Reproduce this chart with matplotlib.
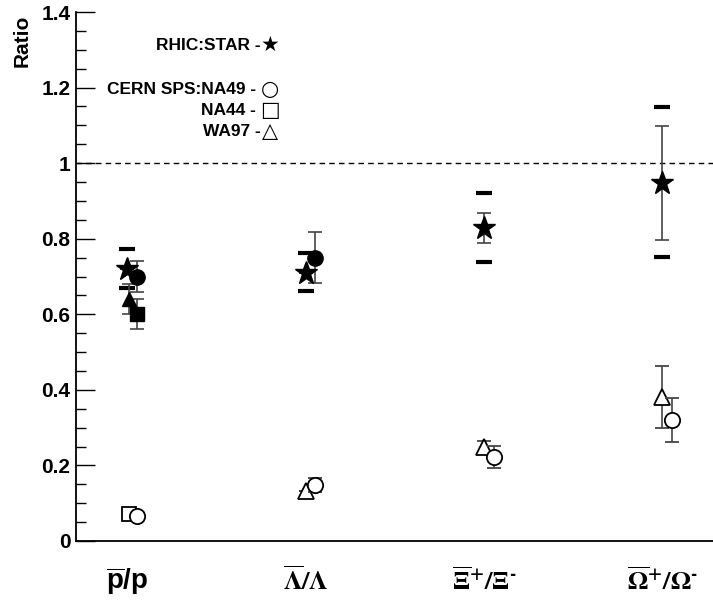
import matplotlib
matplotlib.use("Agg")
import matplotlib.pyplot as plt
import numpy as np

plt.rcParams['font.family'] = ['Liberation Sans', 'DejaVu Sans']
plt.rcParams['font.weight'] = 'bold'
plt.rcParams['mathtext.fontset'] = 'custom'
plt.rcParams['mathtext.rm'] = 'Liberation Sans:bold'
plt.rcParams['mathtext.bf'] = 'Liberation Sans:bold'
plt.rcParams['mathtext.it'] = 'Liberation Sans:bold'

categories = [r'$\overline{\mathbf{p}}/\mathbf{p}$', r'$\overline{\Lambda}/\Lambda$',
              r'$\overline{\Xi}^{+}/\Xi^{\text{-}}$', r'$\overline{\Omega}^{+}/\Omega^{\text{-}}$']

# RHIC:STAR (stars)
star_val = [0.72, 0.71, 0.828, 0.947]
star_err = [0.0, 0.0, 0.04, 0.15]
star_sys_hi = [0.772, 0.762, 0.92, 1.148]
star_sys_lo = [0.67, 0.661, 0.738, 0.751]

# Filled symbols (p/p and Lambda)
na49_fill_val = [0.70, 0.75]
na49_fill_err = [0.04, 0.068]
na44_fill_val = [0.60]
na44_fill_err = [0.04]
wa97_fill_val = [0.64]
wa97_fill_err = [0.04]

# Open symbols (CERN SPS)
na49_open_val = [0.066, 0.148, 0.222, 0.32]
na49_open_err = [0.0, 0.018, 0.03, 0.058]
na44_open_val = [0.071]
na44_open_err = [0.006]
wa97_open_cat = [1, 2, 3]
wa97_open_val = [0.132, 0.248, 0.381]
wa97_open_err = [0.0, 0.017, 0.082]

fig = plt.figure(figsize=(7.13, 6.03), dpi=100)
W, H = 713, 603
ax = fig.add_axes([76 / W, 62 / H, (713 - 76) / W, (541 - 12) / H])

x = np.arange(len(categories))
ecol = '#444444'
ebkw = dict(ecolor=ecol, elinewidth=1.2, capsize=5, capthick=1.2, linestyle='none')

# dashed line at 1
ax.axhline(1.0, color='black', lw=1, ls=(0, (4, 3)), zorder=1)

# systematics dashes for STAR
ax.plot(x - 0.015, star_sys_hi, ls='none', marker='_', ms=12, mew=3, color='black', zorder=3)
ax.plot(x - 0.015, star_sys_lo, ls='none', marker='_', ms=12, mew=3, color='black', zorder=3)

# STAR
ax.errorbar(x - 0.015, star_val, yerr=star_err, fmt='*', ms=17, color='black',
            mfc='black', mec='black', zorder=5, **ebkw)

# filled
ax.errorbar(x[:2] + 0.04, na49_fill_val, yerr=na49_fill_err, fmt='o', ms=11, mfc='black',
            mec='black', zorder=4, **ebkw)
ax.errorbar(x[:1] + 0.04, na44_fill_val, yerr=na44_fill_err, fmt='s', ms=10, mfc='black',
            mec='black', zorder=4, **ebkw)
ax.errorbar(x[:1] - 0.005, wa97_fill_val, yerr=wa97_fill_err, fmt='^', ms=10, mfc='black',
            mec='black', zorder=4, **ebkw)

# open
ax.errorbar(x + 0.04, na49_open_val, yerr=na49_open_err, fmt='o', ms=11, mfc='white',
            mec='black', mew=1.3, zorder=4, **ebkw)
ax.errorbar(x[:1] - 0.005, na44_open_val, yerr=na44_open_err, fmt='s', ms=10, mfc='white',
            mec='black', mew=1.3, zorder=3, **ebkw)
ax.errorbar(np.array(wa97_open_cat) - 0.015, wa97_open_val, yerr=wa97_open_err, fmt='^', ms=11,
            mfc='white', mec='black', mew=1.3, zorder=3, **ebkw)

ax.set_xlim(-0.303, 3.27)
ax.set_ylim(0, 1.4)
ax.set_yticks(np.arange(0, 1.41, 0.2))
ax.set_yticklabels(['0', '0.2', '0.4', '0.6', '0.8', '1', '1.2', '1.4'])
ax.set_yticks(np.arange(0, 1.401, 0.05), minor=True)
ax.tick_params(axis='y', which='major', direction='in', length=14, width=1, labelsize=15, pad=4)
ax.tick_params(axis='y', which='minor', direction='in', length=7, width=1)
for lab in ax.get_yticklabels():
    lab.set_fontweight('bold')

ax.set_xticks(x)
ax.set_xticklabels([])
ax.tick_params(axis='x', which='both', length=0)
for i, c in enumerate(categories):
    mf = 'custom' if i == 0 else 'stix'
    ax.text(x[i] - 0.015, -0.105, c, ha='center', va='center', fontsize=20 if i == 0 else 19,
            fontweight='bold' if i == 0 else 'normal',
            math_fontfamily=mf, transform=ax.transData, clip_on=False)

ax.spines['top'].set_visible(False)
ax.spines['right'].set_visible(False)
ax.spines['left'].set_linewidth(1.3)
ax.spines['bottom'].set_linewidth(1.3)

fig.text(22 / W, 1 - 41 / H, 'Ratio', rotation=90, ha='center', va='center', fontsize=15,
         fontweight='bold')

leg = [('RHIC:STAR -', '\u2605', 45, 1), ('CERN SPS:NA49 - ', '\u25cb', 89, 0),
       ('NA44 - ', '\u25a1', 110, 0), ('WA97 -', '\u25b3', 131, 0)]
for t, sym, yy, filled in leg:
    fig.text(261 / W, 1 - yy / H, t, ha='right', va='center', fontsize=12.5, fontweight='bold')
    fig.text(270 / W, 1 - yy / H, sym, ha='center', va='center', fontsize=15,
             fontweight='normal', family='DejaVu Sans')

fig.savefig('out.png', dpi=100)
